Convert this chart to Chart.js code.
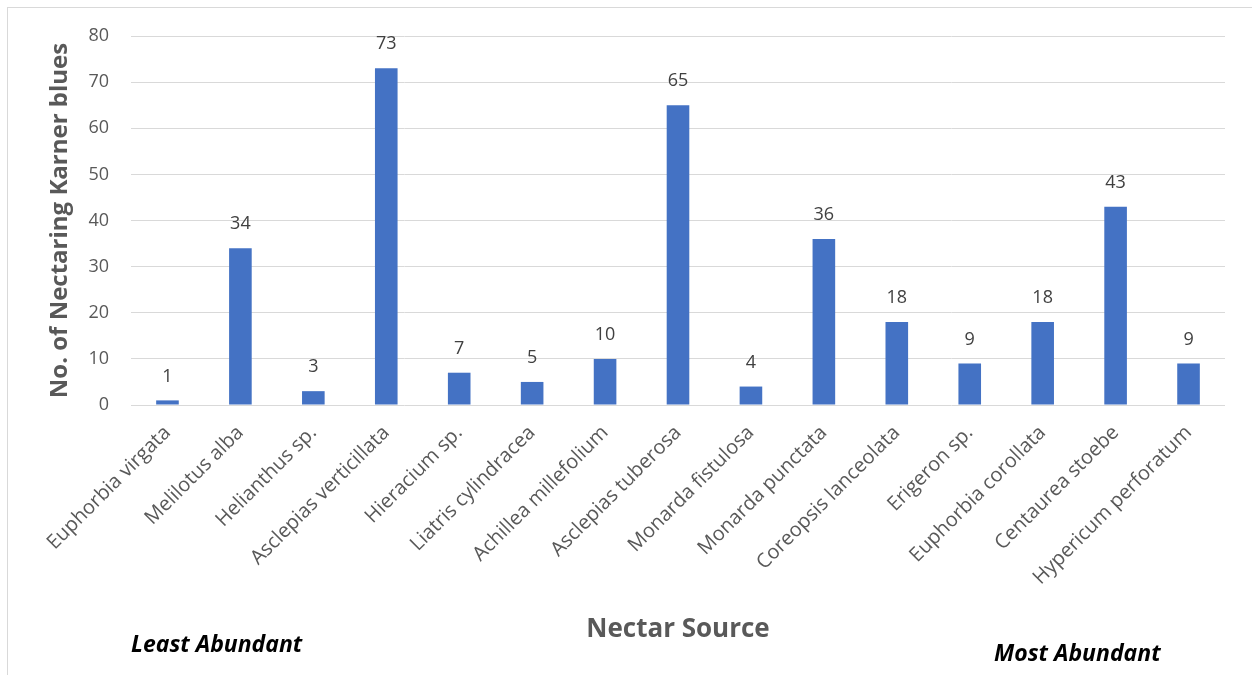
<!DOCTYPE html>
<html lang="en">
<head>
  <meta charset="UTF-8">
  <title>Nectar Sources of Karner blues</title>
  <script src="https://cdn.jsdelivr.net/npm/chart.js"></script>
  <style>
    html, body {
      margin: 0;
      padding: 0;
      background: #fff;
      overflow: hidden;
    }
    #wrap {
      position: relative;
      width: 1252px;
      height: 675px;
    }
    #frame {
      position: absolute;
      left: 7px;
      top: 7px;
      width: 1300px;
      height: 700px;
      border: 1px solid #d9d9d9;
      box-sizing: border-box;
    }
    canvas {
      position: absolute;
      left: 0;
      top: 0;
    }
  </style>
</head>
<body>
<div id="wrap">
  <div id="frame"></div>
  <canvas id="nectarChart" width="1252" height="675"></canvas>
</div>
<script>
const sources = [
  'Euphorbia virgata', 'Melilotus alba', 'Helianthus sp.', 'Asclepias verticillata',
  'Hieracium sp.', 'Liatris cylindracea', 'Achillea millefolium', 'Asclepias tuberosa',
  'Monarda fistulosa', 'Monarda punctata', 'Coreopsis lanceolata', 'Erigeron sp.',
  'Euphorbia corollata', 'Centaurea stoebe', 'Hypericum perforatum'
];
const nectaring = [1, 34, 3, 73, 7, 5, 10, 65, 4, 36, 18, 9, 18, 43, 9];
const yMin = 0, yMax = 80, yStep = 10;
const cornerNotes = ['Least Abundant', 'Most Abundant'];

const fontFam = '"Open Sans", "DejaVu Sans", sans-serif';

// value labels above each bar
const valueLabels = {
  id: 'valueLabels',
  afterDatasetsDraw(chart) {
    const ctx = chart.ctx;
    const meta = chart.getDatasetMeta(0);
    ctx.save();
    ctx.fillStyle = '#404040';
    ctx.font = '18px ' + fontFam;
    ctx.textAlign = 'center';
    ctx.textBaseline = 'bottom';
    meta.data.forEach((bar, i) => {
      ctx.fillText(String(chart.data.datasets[0].data[i]), bar.x, bar.y - 15);
    });
    ctx.restore();
  }
};

// the two notes under the axis
const notes = {
  id: 'notes',
  afterDraw(chart) {
    const ctx = chart.ctx;
    ctx.save();
    ctx.fillStyle = '#000';
    ctx.font = 'italic bold 23px ' + fontFam;
    ctx.textBaseline = 'middle';
    ctx.textAlign = 'left';
    ctx.fillText(cornerNotes[0], 131, 645);
    ctx.fillText(cornerNotes[1], 994, 654);
    ctx.restore();
  }
};

new Chart(document.getElementById('nectarChart'), {
  type: 'bar',
  data: {
    labels: sources,
    datasets: [{
      label: 'No. of Nectaring Karner blues',
      data: nectaring,
      backgroundColor: '#4472C4',
      barPercentage: 0.62,
      categoryPercentage: 0.5
    }]
  },
  options: {
    responsive: false,
    animation: false,
    layout: { padding: { top: 36, right: 27, bottom: 0, left: 0 } },
    plugins: {
      legend: { display: false },
      tooltip: { enabled: false }
    },
    scales: {
      x: {
        grid: { display: false, drawTicks: false },
        border: { display: false },
        ticks: {
          color: '#595959',
          font: { family: fontFam, size: 20 },
          minRotation: 45,
          maxRotation: 45,
          padding: 16,
          autoSkip: false
        },
        title: {
          display: true,
          text: 'Nectar Source',
          color: '#595959',
          font: { family: fontFam, size: 26, weight: 'bold' },
          padding: { top: 0, bottom: 30 }
        },
        afterFit(scale) { scale.height = 270; }
      },
      y: {
        min: yMin,
        max: yMax,
        grid: { color: '#d9d9d9', lineWidth: 1, drawTicks: false },
        border: { display: false },
        ticks: {
          stepSize: yStep,
          color: '#595959',
          font: { family: fontFam, size: 18 },
          padding: 22
        },
        title: {
          display: true,
          text: 'No. of Nectaring Karner blues',
          color: '#595959',
          font: { family: fontFam, size: 24, weight: 'bold' },
          padding: { top: 46, bottom: 0 }
        },
        afterFit(scale) { scale.width = 131; }
      }
    }
  },
  plugins: [valueLabels, notes]
});
</script>
</body>
</html>
